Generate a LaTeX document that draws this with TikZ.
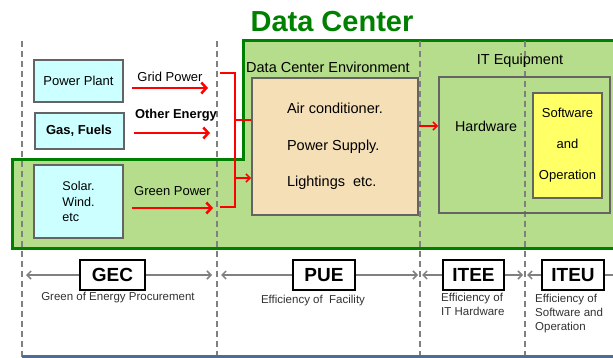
\documentclass[tikz,border=0pt]{standalone}
\usepackage{fontspec}
\setmainfont{Liberation Sans}
\usetikzlibrary{positioning, arrows.meta}
\definecolor{dcgreen}{RGB}{0,128,0}
\definecolor{dcfill}{RGB}{182,221,140}
\definecolor{boxgrey}{RGB}{100,100,100}
\definecolor{srccyan}{RGB}{204,255,255}
\definecolor{envwheat}{RGB}{245,223,183}
\definecolor{swyellow}{RGB}{255,255,102}
\definecolor{dashgrey}{RGB}{128,128,128}
\definecolor{baseblue}{RGB}{79,109,148}
\definecolor{labelgrey}{RGB}{50,50,50}

\begin{document}
\begin{tikzpicture}[x=1pt, y=-1pt,
    srcbox/.style={draw=boxgrey, line width=2pt, fill=srccyan, minimum width=89pt, inner sep=0pt},
    graybox/.style={draw=boxgrey, line width=2pt, inner sep=0pt},
    metricbox/.style={draw=black, line width=1.3pt, fill=white, minimum width=62pt, minimum height=30pt,
        inner sep=0pt, font=\fontsize{19}{21}\selectfont\bfseries},
    flow/.style={red, line width=2.5pt, -{Straight Barb[length=5pt,width=11pt]}},
    feed/.style={red, line width=1.5pt},
    divider/.style={dashgrey, line width=2pt, dash pattern=on 6pt off 4pt},
    span/.style={dashgrey, line width=1.5pt, -{Straight Barb[length=4pt,width=8pt]}},
    note/.style={labelgrey, font=\fontsize{11.5}{14}\selectfont, inner sep=0pt}]
    \useasboundingbox (0,0) rectangle (613,358);
    \clip (0,0) rectangle (613,358);

    % data center area
    \draw[dcgreen, line width=3pt, fill=dcfill] (12,160) -- (243,160) -- (243,41) -- (640,41)
        -- (640,248) -- (12,248) -- cycle;
    \node[dcgreen, font=\fontsize{29}{31}\selectfont\bfseries] (title) at (332,22) {Data Center};

    % draw dashed dividers
    \foreach \x/\n in {22/d1,217/d2,420/d3,525/d4}{
        \coordinate (\n) at (\x,41);
        \draw[divider] (\n) -- (\x,360);
    }
    \draw[baseblue, line width=3pt] (d1 |- 0,356) -- (613,356);

    % energy sources
    \node[srcbox, minimum height=42pt, font=\fontsize{13}{15}\selectfont] (plant) at (78.5,81) {Power Plant};
    \node[srcbox, minimum height=36pt, font=\fontsize{13}{15}\selectfont\bfseries] (fuel) at (79,131) {Gas, Fuels};
    \node[srcbox, minimum height=73pt, align=left, font=\fontsize{12.6}{15.5}\selectfont] (solar) at (78.5,201.5)
        {Solar.\\Wind.\\etc};

    % facility and IT
    \node[graybox, fill=envwheat, minimum width=166pt, minimum height=137pt, align=left,
        font=\fontsize{14.5}{36.5}\selectfont] (dcenv) at (335,146.5)
        {Air conditioner.\\Power Supply.\\Lightings\ \ etc.};
    \node[font=\fontsize{14.5}{16}\selectfont] (envlbl) at (328,67) {Data Center Environment};
    \node[graybox, minimum width=171pt, minimum height=136pt] (itbox) at (524.5,145) {};
    \node[font=\fontsize{14.5}{16}\selectfont] (itlbl) at (520,61) {IT Equipment};
    \node[font=\fontsize{14.3}{16}\selectfont] (hw) at (486,126) {Hardware};
    \node[graybox, fill=swyellow, minimum width=69pt, minimum height=105pt, align=center,
        font=\fontsize{13}{31}\selectfont] (sw) at (567.5,145.5) {Software\\and\\Operation};

    % energy flows
    \coordinate (gridA) at (132,88);   \coordinate (gridB) at (208,88);
    \coordinate (otherA) at (134,133); \coordinate (otherB) at (210,133);
    \coordinate (greenA) at (132,208); \coordinate (greenB) at (213,208);
    \draw[flow] (gridA) -- (gridB) node[midway, above=5pt, black, font=\fontsize{13}{15}\selectfont, inner sep=0pt] (gridlbl) {Grid Power};
    \draw[flow] (otherA) -- (otherB) node[midway, above=11pt, xshift=4pt, black, font=\fontsize{12.9}{15}\selectfont\bfseries, inner sep=0pt] (otherlbl) {Other Energy};
    \draw[flow] (greenA) -- (greenB) node[midway, above=11pt, black, font=\fontsize{13}{15}\selectfont, inner sep=0pt] (greenlbl) {Green Power};

    \coordinate (feedtop) at (220,73);
    \coordinate (feedbot) at (220,207);
    \coordinate (bus) at (235,0);
    \draw[feed] (feedtop) -| (bus |- feedbot) -- (feedbot);
    \draw[feed] (bus |- 0,120) -- (dcenv.west |- 0,120);
    \draw[feed, -{Straight Barb[length=4pt,width=8pt]}] (bus |- 0,178) -- (dcenv.west |- 0,178);
    \draw[red, line width=1.5pt, -{Straight Barb[length=4pt,width=8pt]}] (dcenv.east |- hw) -- (itbox.west |- hw);

    % metrics
    \node[metricbox, minimum width=65pt] (gec) at (112.5,275) {GEC};
    \node[metricbox] (pue) at (324,275) {PUE};
    \node[metricbox, minimum width=61pt] (itee) at (473.5,275) {ITEE};
    \node[metricbox] (iteu) at (573,275) {ITEU};
    \coordinate (rightedge) at (613,275);

    \draw[span] (gec.west) -- ([xshift=4pt]gec.west -| d1);
    \draw[span] (gec.east) -- ([xshift=-5pt]gec.east -| d2);
    \draw[span] (pue.west) -- ([xshift=4pt]pue.west -| d2);
    \draw[span] (pue.east) -- ([xshift=-2pt]pue.east -| d3);
    \draw[span] (itee.west) -- ([xshift=2pt]itee.west -| d3);
    \draw[span] (itee.east) -- ([xshift=-2pt]itee.east -| d4);
    \draw[span] (iteu.west) -- ([xshift=2pt]iteu.west -| d4);
    \draw[dashgrey, line width=1.5pt] (iteu.east) -- (rightedge);

    \node[note] (gecnote) at (118,298) {Green of Energy Procurement};
    \node[note] (puenote) at (313,301) {Efficiency of\ \ Facility};
    \node[note, align=left, anchor=north west] (iteenote) at (441,293) {Efficiency of\\IT Hardware};
    \node[note, align=left, anchor=north west] (iteunote) at (535,294) {Efficiency of\\Software and\\Operation};
\end{tikzpicture}
\end{document}
